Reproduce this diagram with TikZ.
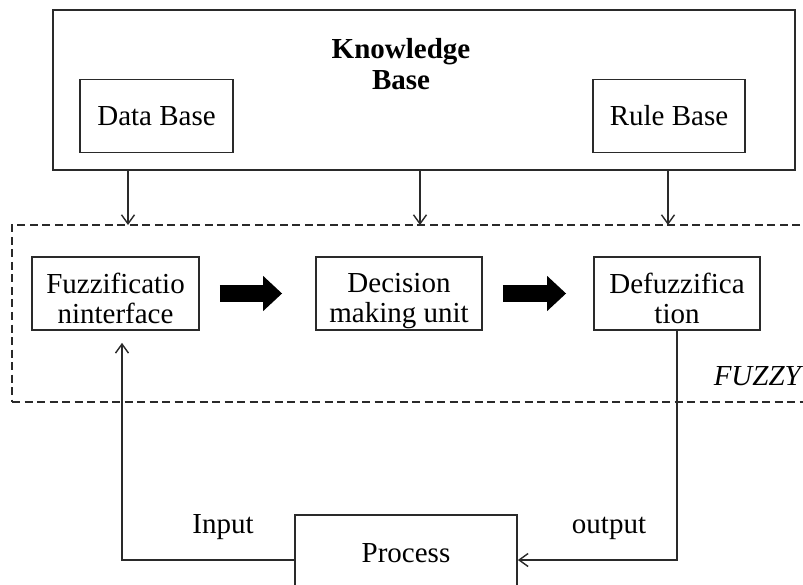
\documentclass[tikz,border=0pt]{standalone}
\usepackage{fontspec}
\setmainfont{Liberation Serif}
\usetikzlibrary{arrows.meta}
\definecolor{ink}{HTML}{2A2A2A}
\begin{document}
\begin{tikzpicture}[x=1pt,y=-1pt,
  font=\fontsize{29}{30}\selectfont,
  box/.style={draw=ink, line width=1.8pt, align=center, inner sep=0pt, text=black},
  wire/.style={draw=ink, line width=1.4pt},
  arr/.style={wire, -{Straight Barb[length=9pt,width=13pt,line width=1.4pt]}},
  blockarrow/.style={draw=black, line width=17pt,
    -{Triangle[length=19pt,width=34pt]}},
  frame/.style={draw=ink, line width=1.5pt, dash pattern=on 8pt off 4.5pt, inner sep=0pt},
  lbl/.style={inner sep=0pt, text=black},
  twoline/.style={lbl, anchor=north, align=center}]
\path[use as bounding box, clip] (0,0) rectangle (803,585);

% knowledge base with its two stores
\node[box, minimum width=742pt, minimum height=160pt] (kb) at (424,90) {};
\node[lbl, font=\fontsize{29}{31}\selectfont\bfseries, align=center] (kbtitle) at (401,64) {Knowledge\\Base};
\node[box, minimum width=153pt, minimum height=73pt] (db) at (156.5,116) {Data Base};
\node[box, minimum width=152pt, minimum height=73pt] (rb) at (669,116) {Rule Base};

% fuzzy controller frame (open to the right)
\node[frame, minimum width=818pt, minimum height=177pt] (fz) at (421,313.5) {};
\node[lbl, anchor=base east, font=\fontsize{29}{30}\selectfont\itshape] (fuzzylbl) at (801,385) {FUZZY};

% processing stages
\node[box, minimum width=167pt, minimum height=73pt] (fi) at (115.5,293.5) {};
\node[box, minimum width=166pt, minimum height=73pt] (dm) at (399,293.5) {};
\node[box, minimum width=166pt, minimum height=73pt] (df) at (677,293.5) {};
\node[twoline] (fitxt) at (115.5,273) {Fuzzificatio\\ninterface};
\node[twoline] (dmtxt) at (399,273) {Decision\\making unit};
\node[twoline] (dftxt) at (677,273) {Defuzzifica\\tion};

% plant
\node[box, minimum width=222pt, minimum height=86pt] (proc) at (406,558) {};
\node[lbl, anchor=base] (proclbl) at (406,562) {Process};
\node[lbl, anchor=base] (inlbl) at (223,533) {Input};
\node[lbl, anchor=base] (outlbl) at (609,533) {output};

% knowledge feeds into the controller
\coordinate (k1) at (128,225);
\coordinate (k2) at (420,225);
\coordinate (k3) at (668,225);
\draw[arr] (kb.south -| k1) -- (k1);
\draw[arr] (kb.south -| k2) -- (k2);
\draw[arr] (kb.south -| k3) -- (k3);

% main flow
\draw[blockarrow] ([xshift=20pt]fi.east) -- ([xshift=-33pt]dm.west);
\draw[blockarrow] ([xshift=20pt]dm.east) -- ([xshift=-27pt]df.west);

% closed loop through the process
\coordinate (inx) at (122,0);
\draw[arr, shorten >=12pt] ([yshift=-2pt]proc.west) -| (fi.south -| inx);
\draw[arr] (df.south) |- ([yshift=-2pt]proc.east);
\end{tikzpicture}
\end{document}
